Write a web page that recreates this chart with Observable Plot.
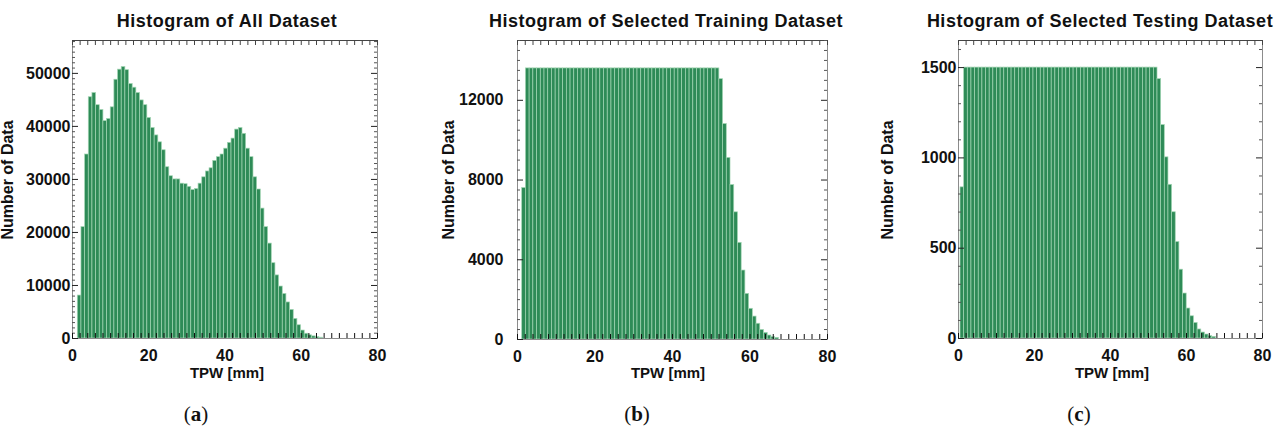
<!DOCTYPE html>
<html>
<head>
<meta charset="utf-8">
<script src="https://cdn.jsdelivr.net/npm/d3@7"></script>
<script src="https://cdn.jsdelivr.net/npm/@observablehq/plot@0.6"></script>
<style>
  body { margin: 0; background: #fff; }
  #wrap { position: relative; width: 1276px; height: 433px; overflow: hidden;
          font-family: "Liberation Sans", Arial, sans-serif; color: #111; }
  .panel { position: absolute; top: 0; }
  .title { position: absolute; font-weight: bold; font-size: 18px; letter-spacing: 0.5px;
           line-height: 1; white-space: nowrap; transform: translateX(-50%); }
  .xlab { position: absolute; font-weight: bold; font-size: 15px; line-height: 1;
          white-space: nowrap; transform: translateX(-50%); }
  .ylab { position: absolute; font-weight: bold; font-size: 16px; line-height: 1;
          white-space: nowrap; transform: translate(-50%, -50%) rotate(-90deg); }
  .cap { position: absolute; font-family: "Liberation Serif", "DejaVu Serif", serif; font-size: 21px;
         line-height: 1; white-space: nowrap; transform: translateX(-50%); }
</style>
</head>
<body>
<div id="wrap"></div>
<script>
// ---------------- data ----------------
const binWidth = 0.96;            // TPW bin width [mm]
const allStart = 1.39;            // first bin start [mm]
const trainStart = 1.21;
const testStart = 0.53;

const allCounts = [
  8100, 21000, 34700, 45500, 46300, 44000, 43100, 41000, 41400, 43600,
  48800, 50700, 51200, 50600, 48000, 47300, 46300, 44900, 44000, 41600,
  39700, 38300, 37000, 35500, 32300, 30600, 30000, 30000, 29200, 29100,
  28600, 28000, 28200, 29200, 30400, 31500, 32100, 33500, 34200, 34700,
  35800, 36900, 37700, 39400, 39700, 38600, 35800, 34200, 30400, 28100,
  24500, 21000, 17900, 14200, 11900, 9800, 8400, 6800, 5400, 3700,
  2500, 1500, 900, 600, 400, 250, 150
];

const trainCounts = [
  7600,
  13600, 13600, 13600, 13600, 13600, 13600, 13600, 13600, 13600, 13600,
  13600, 13600, 13600, 13600, 13600, 13600, 13600, 13600, 13600, 13600,
  13600, 13600, 13600, 13600, 13600, 13600, 13600, 13600, 13600, 13600,
  13600, 13600, 13600, 13600, 13600, 13600, 13600, 13600, 13600, 13600,
  13600, 13600, 13600, 13600, 13600, 13600, 13600, 13600, 13600, 13600,
  13600, 13600,
  13060, 10810, 9110, 7750, 6380, 4850, 3460, 2290, 1540, 1150,
  790, 480, 330, 200, 120, 80
];

const testCounts = [
  837,
  1500, 1500, 1500, 1500, 1500, 1500, 1500, 1500, 1500, 1500,
  1500, 1500, 1500, 1500, 1500, 1500, 1500, 1500, 1500, 1500,
  1500, 1500, 1500, 1500, 1500, 1500, 1500, 1500, 1500, 1500,
  1500, 1500, 1500, 1500, 1500, 1500, 1500, 1500, 1500, 1500,
  1500, 1500, 1500, 1500, 1500, 1500, 1500, 1500, 1500, 1500,
  1500, 1500, 1500,
  1436, 1182, 1003, 851, 699, 534, 381, 249, 166, 123,
  86, 50, 33, 22, 13, 9
];

const xTicks = [0, 20, 40, 60, 80];
const allYTicks = [0, 10000, 20000, 30000, 40000, 50000];
const trainYTicks = [0, 4000, 8000, 12000];
const testYTicks = [0, 500, 1000, 1500];

const titles = ["Histogram of All Dataset", "Histogram of Selected Training Dataset", "Histogram of Selected Testing Dataset"];
const captions = ["a", "b", "c"];
const xLabel = "TPW [mm]";
const yLabel = "Number of Data";

// ---------------- drawing ----------------
const wrap = document.getElementById("wrap");
const H = 400, MT = 40;

function panel(cfg) {
  const rows = cfg.counts.map((c, i) => ({x1: cfg.start + i * binWidth, x2: cfg.start + (i + 1) * binWidth, count: c}));
  const innerW = cfg.width - cfg.ml - cfg.mr;
  const innerH = H - MT - cfg.mb;
  const yMinor = d3.range(0, cfg.yMax + 1e-6, cfg.yMinorStep).filter(v => !cfg.yTicks.includes(v));
  const xAllTicks = d3.range(0, 80.001, 2);
  const chart = Plot.plot({
    width: cfg.width, height: H,
    marginLeft: cfg.ml, marginRight: cfg.mr, marginTop: MT, marginBottom: cfg.mb,
    x: {domain: [0, 80]},
    y: {domain: [0, cfg.yMax]},
    style: {fontFamily: '"Liberation Sans", Arial, sans-serif', fontSize: "16px", fontWeight: "bold", color: "#111", background: "transparent", overflow: "visible"},
    marks: [
      Plot.rectY(rows, {x1: "x1", x2: "x2", y: "count", fill: "#2e8b57", stroke: "#a3d6b4", strokeWidth: 0.7}),
      Plot.frame({stroke: "#8c8c8c"}),
      Plot.ruleY([cfg.yMax], {stroke: "#444"}),
      Plot.tickY(cfg.yTicks, {y: d => d, insetRight: innerW - 6, stroke: "#222"}),
      Plot.tickY(cfg.yTicks, {y: d => d, insetLeft: innerW - 6, stroke: "#222"}),
      Plot.tickY(yMinor, {y: d => d, insetRight: innerW - 3, stroke: "#555"}),
      Plot.tickY(yMinor, {y: d => d, insetLeft: innerW - 3, stroke: "#555"}),
      Plot.tickX(xAllTicks, {x: d => d, insetTop: innerH - 5, stroke: "#111"}),
      Plot.tickX(xAllTicks, {x: d => d, insetBottom: innerH - 5, stroke: "#444"}),
      Plot.axisY({ticks: cfg.yTicks, tickSize: 0, tickPadding: cfg.pad, tickFormat: d => String(d), label: null}),
      Plot.axisX({ticks: xTicks, tickSize: 0, tickPadding: 11, tickFormat: d => String(d), label: null})
    ]
  });
  const holder = document.createElement("div");
  holder.className = "panel";
  holder.style.left = cfg.left + "px";
  holder.appendChild(chart);
  wrap.appendChild(holder);

  const t = document.createElement("div");
  t.className = "title"; t.textContent = cfg.title;
  t.style.left = cfg.titleX + "px"; t.style.top = "11.5px";
  wrap.appendChild(t);

  const xl = document.createElement("div");
  xl.className = "xlab"; xl.textContent = xLabel;
  xl.style.left = cfg.xLabX + "px"; xl.style.top = "365px";
  wrap.appendChild(xl);

  const yl = document.createElement("div");
  yl.className = "ylab"; yl.textContent = yLabel;
  yl.style.left = cfg.yLabX + "px"; yl.style.top = "180px";
  wrap.appendChild(yl);

  const c = document.createElement("div");
  c.className = "cap";
  c.innerHTML = "(<b>" + cfg.cap + "</b>)";
  c.style.left = cfg.capX + "px"; c.style.top = "404px";
  wrap.appendChild(c);
}

panel({counts: allCounts, start: allStart, yMax: 56200, yTicks: allYTicks, yMinorStep: 1000,
       left: 0, width: 420, ml: 72, mr: 43, mb: 62, pad: 2,
       title: titles[0], titleX: 227, xLabX: 227, yLabX: 8, capX: 196, cap: captions[0]});
panel({counts: trainCounts, start: trainStart, yMax: 15000, yTicks: trainYTicks, yMinorStep: 500,
       left: 430, width: 420, ml: 87, mr: 23, mb: 61, pad: 14,
       title: titles[1], titleX: 666, xLabX: 668, yLabX: 449, capX: 637, cap: captions[1]});
panel({counts: testCounts, start: testStart, yMax: 1650, yTicks: testYTicks, yMinorStep: 100,
       left: 870, width: 406, ml: 88, mr: 14, mb: 62, pad: 2,
       title: titles[2], titleX: 1100, xLabX: 1112, yLabX: 888, capX: 1079, cap: captions[2]});
</script>
</body>
</html>
